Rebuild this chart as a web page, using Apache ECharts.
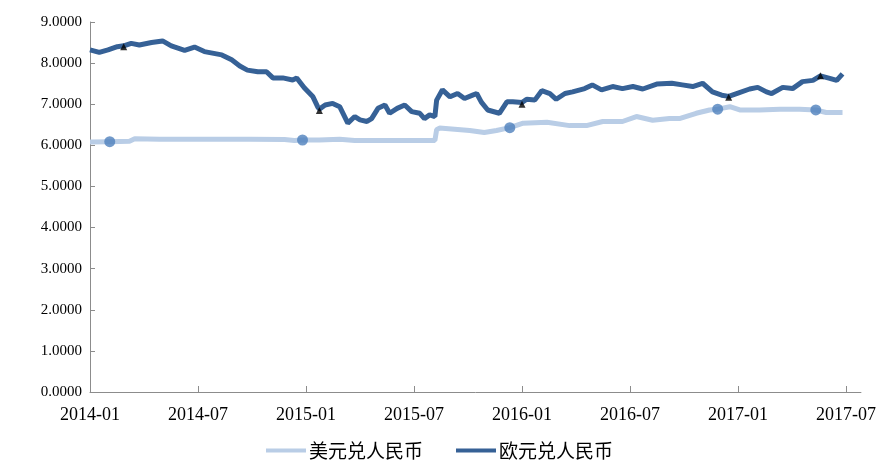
<!DOCTYPE html>
<html>
<head>
<meta charset="utf-8">
<script src="https://cdn.jsdelivr.net/npm/echarts@6/dist/echarts.min.js"></script>
<style>
html, body { margin: 0; padding: 0; background: #fff; }
#chart { width: 879px; height: 463px; }
</style>
</head>
<body>
<div id="chart"></div>
<script>
// 横轴刻度
var xTickLabels = ['2014-01', '2014-07', '2015-01', '2015-07', '2016-01', '2016-07', '2017-01', '2017-07'];
var yTicks = [0, 1, 2, 3, 4, 5, 6, 7, 8, 9];

// 美元兑人民币
var usdDates = ['2014-01-01', '2014-02-04', '2014-03-07', '2014-03-16', '2014-04-28', '2014-07-04', '2014-09-28',
    '2014-11-26', '2014-12-12', '2014-12-26', '2015-01-24', '2015-02-28', '2015-03-23', '2015-05-04', '2015-06-24',
    '2015-08-06', '2015-08-09', '2015-08-14', '2015-09-09', '2015-10-04', '2015-10-29', '2015-11-19', '2015-12-11',
    '2016-01-03', '2016-02-13', '2016-03-21', '2016-04-19', '2016-05-16', '2016-06-19', '2016-07-12', '2016-08-09',
    '2016-09-07', '2016-09-24', '2016-10-22', '2016-11-14', '2016-11-28', '2016-12-18', '2017-01-04', '2017-02-07',
    '2017-03-11', '2017-04-14', '2017-05-11', '2017-05-29', '2017-06-26'];
var usdValues = [6.08, 6.09, 6.10, 6.16, 6.15, 6.15, 6.15,
    6.14, 6.12, 6.13, 6.13, 6.15, 6.12, 6.12, 6.12,
    6.12, 6.38, 6.42, 6.39, 6.36, 6.31, 6.36, 6.43,
    6.54, 6.56, 6.48, 6.48, 6.58, 6.58, 6.70, 6.61,
    6.65, 6.65, 6.78, 6.86, 6.88, 6.94, 6.86, 6.86,
    6.88, 6.88, 6.86, 6.80, 6.80];

// 欧元兑人民币
var eurDates = ['2014-01-01', '2014-01-17', '2014-02-01', '2014-02-17', '2014-02-28', '2014-03-10', '2014-03-24',
    '2014-04-14', '2014-05-02', '2014-05-17', '2014-06-09', '2014-06-26', '2014-07-12', '2014-08-11', '2014-08-28',
    '2014-09-11', '2014-09-24', '2014-10-11', '2014-10-26', '2014-11-06', '2014-11-23', '2014-12-09', '2014-12-16',
    '2014-12-29', '2015-01-13', '2015-01-21', '2015-01-24', '2015-02-03', '2015-02-16', '2015-02-28', '2015-03-11',
    '2015-03-23', '2015-04-01', '2015-04-13', '2015-04-21', '2015-05-01', '2015-05-13', '2015-05-21', '2015-06-03',
    '2015-06-16', '2015-06-28', '2015-07-11', '2015-07-19', '2015-07-28', '2015-08-06', '2015-08-09', '2015-08-19',
    '2015-09-01', '2015-09-14', '2015-09-26', '2015-10-09', '2015-10-16', '2015-10-24', '2015-11-04', '2015-11-24',
    '2015-12-06', '2015-12-16', '2016-01-01', '2016-01-09', '2016-01-23', '2016-02-04', '2016-02-18', '2016-02-29',
    '2016-03-13', '2016-03-26', '2016-04-16', '2016-04-29', '2016-05-14', '2016-06-02', '2016-06-19', '2016-07-06',
    '2016-07-23', '2016-08-16', '2016-09-11', '2016-09-29', '2016-10-16', '2016-11-02', '2016-11-19', '2016-12-04',
    '2016-12-16', '2017-01-01', '2017-01-21', '2017-02-04', '2017-02-19', '2017-02-28', '2017-03-16', '2017-04-02',
    '2017-04-19', '2017-05-06', '2017-05-19', '2017-06-04', '2017-06-16', '2017-06-26'];
var eurValues = [8.32, 8.26, 8.32, 8.40, 8.42, 8.48, 8.44,
    8.50, 8.54, 8.42, 8.31, 8.39, 8.28, 8.20, 8.08,
    7.93, 7.83, 7.79, 7.79, 7.64, 7.64, 7.59, 7.64,
    7.40, 7.18, 6.94, 6.88, 6.98, 7.02, 6.94, 6.54,
    6.70, 6.62, 6.58, 6.65, 6.90, 6.98, 6.78, 6.90,
    6.98, 6.82, 6.78, 6.65, 6.74, 6.70, 7.10, 7.35,
    7.18, 7.26, 7.14, 7.22, 7.26, 7.05, 6.86, 6.78,
    7.06, 7.06, 7.04, 7.12, 7.10, 7.33, 7.26, 7.12,
    7.26, 7.30, 7.38, 7.47, 7.35, 7.43, 7.38, 7.43,
    7.37, 7.49, 7.51, 7.47, 7.43, 7.51, 7.30, 7.22,
    7.19, 7.27, 7.37, 7.41, 7.30, 7.26, 7.41, 7.38,
    7.55, 7.58, 7.69, 7.63, 7.58, 7.74];

// 标记点
var usdMarkDates = ['2014-02-04', '2014-12-26', '2015-12-11', '2016-11-28', '2017-05-11'];
var usdMarkValues = [6.09, 6.13, 6.43, 6.88, 6.86];
var eurMarkDates = ['2014-02-28', '2015-01-24', '2016-01-01', '2016-12-16', '2017-05-19'];
var eurMarkValues = [8.40, 6.85, 7.00, 7.17, 7.69];

// 日期 -> 自2014-01起的月数
function toMonth(s) {
    var p = s.split('-');
    return (Number(p[0]) - 2014) * 12 + (Number(p[1]) - 1) + (Number(p[2]) - 1) / 31;
}

function pairs(dates, values) {
    var out = [];
    for (var i = 0; i < dates.length; i++) {
        out.push([toMonth(dates[i]), values[i]]);
    }
    return out;
}

var tickPos = [];
for (var i = 0; i < xTickLabels.length; i++) {
    tickPos.push(toMonth(xTickLabels[i] + '-01'));
}

var serif = '"Liberation Serif", "Times New Roman", serif';
var cjk = '"Noto Sans CJK SC", sans-serif';

var app = echarts.init(document.getElementById('chart'));
var option = {
    animation: false,
    grid: {
        left: 90,
        right: 18,
        top: 22,
        bottom: 71
    },
    legend: {
        top: 436,
        left: 'center',
        itemWidth: 40,
        itemHeight: 4,
        itemGap: 33,
        icon: 'rect',
        textStyle: { fontFamily: cjk, fontSize: 19, color: '#000', padding: [0, 0, 0, -2] },
        data: ['美元兑人民币', '欧元兑人民币']
    },
    xAxis: {
        type: 'value',
        min: 0,
        max: 42.83,
        splitLine: { show: false },
        axisLine: { lineStyle: { color: '#8c8c8c', width: 1 } },
        axisTick: {
            inside: true,
            length: 6,
            customValues: tickPos,
            lineStyle: { color: '#8c8c8c' }
        },
        axisLabel: {
            customValues: tickPos,
            margin: 14,
            fontFamily: serif,
            fontSize: 18,
            color: '#000',
            formatter: function(v) {
                var idx = tickPos.indexOf(v);
                return idx >= 0 ? xTickLabels[idx] : '';
            }
        }
    },
    yAxis: {
        type: 'value',
        min: yTicks[0],
        max: yTicks[yTicks.length - 1],
        interval: 1,
        splitLine: { show: false },
        axisLine: { show: true, lineStyle: { color: '#8c8c8c', width: 1 } },
        axisTick: { show: true, inside: true, length: 5, lineStyle: { color: '#8c8c8c' } },
        axisLabel: {
            margin: 8,
            fontFamily: serif,
            fontSize: 15,
            color: '#000',
            formatter: function(v) { return v.toFixed(4); }
        }
    },
    series: [
        {
            name: '美元兑人民币',
            type: 'line',
            showSymbol: false,
            color: '#b9cde6',
            lineStyle: { width: 5, color: '#b9cde6' },
            data: pairs(usdDates, usdValues),
            z: 2
        },
        {
            name: '欧元兑人民币',
            type: 'line',
            showSymbol: false,
            color: '#366196',
            lineStyle: { width: 5, color: '#366196' },
            data: pairs(eurDates, eurValues),
            z: 3
        },
        {
            name: 'usdMark',
            type: 'scatter',
            symbol: 'circle',
            symbolSize: 11,
            itemStyle: { color: '#4f81bd' },
            data: pairs(usdMarkDates, usdMarkValues),
            z: 4
        },
        {
            name: 'eurMark',
            type: 'scatter',
            symbol: 'triangle',
            symbolSize: 7,
            itemStyle: { color: '#000' },
            data: pairs(eurMarkDates, eurMarkValues),
            z: 5
        }
    ]
};
app.setOption(option);
</script>
</body>
</html>
